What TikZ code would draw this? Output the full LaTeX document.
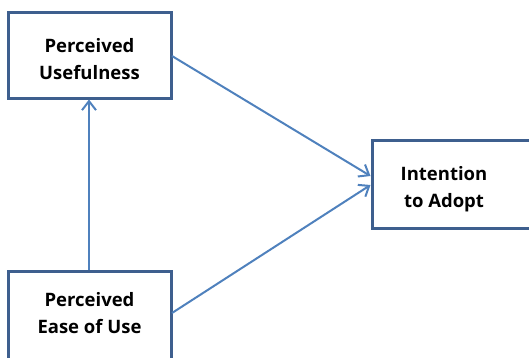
\documentclass[tikz,border=0pt]{standalone}
\usepackage{fontspec}
\setmainfont{Open Sans}
\usetikzlibrary{arrows.meta}
\definecolor{boxblue}{HTML}{3E5F8E}
\definecolor{lineblue}{HTML}{4F81BD}
\begin{document}
\begin{tikzpicture}[x=1pt,y=-1pt,
  box/.style={draw=boxblue,line width=3pt,fill=white},
  lbl/.style={font=\fontsize{18.5}{26.5}\selectfont\bfseries,align=center,inner sep=0pt},
  conn/.style={draw=lineblue,line width=2pt,-{Straight Barb[length=9pt,width=14pt,line width=2pt]}}]
\useasboundingbox (0,0) rectangle (529,357);
\clip (0,0) rectangle (529,357);
\draw[box] (8,12) rectangle (171,98);
\draw[box] (8,271) rectangle (171,372);
\draw[box] (372,140) rectangle (545,228);
\node[lbl] (putext) at (89.5,59) {Perceived\\Usefulness};
\node[lbl] (peoutext) at (89.5,313) {Perceived\\Ease of Use};
\node[lbl] (itatext) at (444,189) {Intention\\to Adopt};
\coordinate (puB) at (89,99.5);
\coordinate (puR) at (172,56);
\coordinate (peoT) at (89,269.5);
\coordinate (peoR) at (172,313);
\coordinate (itaA) at (370.5,176);
\coordinate (itaB) at (370.5,185);
\draw[conn] (peoT) -- (puB);
\draw[conn] (puR) -- (itaA);
\draw[conn] (peoR) -- (itaB);
\end{tikzpicture}
\end{document}
